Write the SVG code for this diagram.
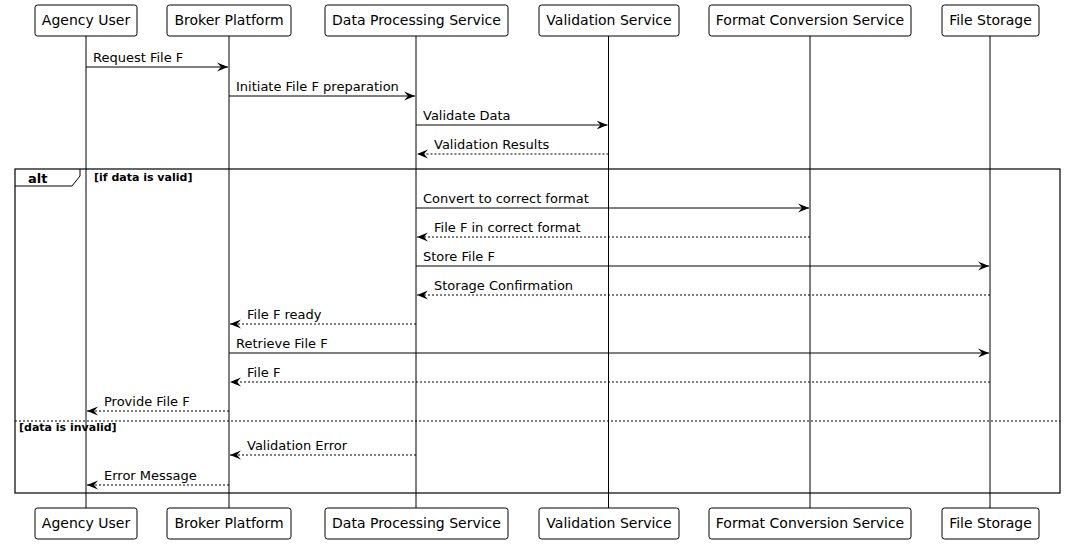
<svg xmlns="http://www.w3.org/2000/svg" width="1066" height="544" viewBox="0 0 1066 544">
<defs>
<style>
text{font-family:"DejaVu Sans",sans-serif;fill:#000}
.p{font-size:14px;text-anchor:middle}
.m{font-size:13px}
.g{font-size:11px;font-weight:bold}
.box{fill:#fff;stroke:#000;stroke-width:1}
.life{stroke:#000;stroke-width:1}
.sol{stroke:#000;stroke-width:1;fill:none}
.das{stroke:#000;stroke-width:1;fill:none;stroke-dasharray:2,2}
</style>
<marker id="ah" viewBox="0 0 12 10" refX="11" refY="5" markerWidth="12" markerHeight="10" orient="auto-start-reverse" markerUnits="userSpaceOnUse">
<path d="M0,0.5 L11,5 L0,9.5 L4,5 Z" fill="#000"/>
</marker>
</defs>
<rect width="1066" height="544" fill="#fff"/>
<g id="lifelines">
<line class="life" x1="86" y1="36" x2="86" y2="508"/>
<line class="life" x1="229" y1="36" x2="229" y2="508"/>
<line class="life" x1="416" y1="36" x2="416" y2="508"/>
<line class="life" x1="608.5" y1="36" x2="608.5" y2="508"/>
<line class="life" x1="810" y1="36" x2="810" y2="508"/>
<line class="life" x1="990" y1="36" x2="990" y2="508"/>
</g>
<g id="alt-frame">
<rect x="15" y="169" width="1045" height="324" fill="none" stroke="#000" stroke-width="1.2"/>
<path d="M15,186 L72,186 L80,176 L80,169" fill="none" stroke="#000" stroke-width="1"/>
<text x="28" y="183" style="font-size:13px;font-weight:bold">alt</text>
<text class="g" x="94" y="181">[if data is valid]</text>
<line x1="15" y1="421" x2="1060" y2="421" stroke="#000" stroke-width="1" stroke-dasharray="2,2"/>
<text class="g" x="19" y="431">[data is invalid]</text>
</g>
<g id="participant-agency-user">
<rect class="box" x="35" y="5" width="102" height="31" rx="2.5"/>
<text class="p" x="86" y="25">Agency User</text>
<rect class="box" x="35" y="508" width="102" height="31" rx="2.5"/>
<text class="p" x="86" y="528">Agency User</text>
</g>
<g id="participant-broker-platform">
<rect class="box" x="167" y="5" width="124" height="31" rx="2.5"/>
<text class="p" x="229" y="25">Broker Platform</text>
<rect class="box" x="167" y="508" width="124" height="31" rx="2.5"/>
<text class="p" x="229" y="528">Broker Platform</text>
</g>
<g id="participant-data-processing">
<rect class="box" x="325" y="5" width="183" height="31" rx="2.5"/>
<text class="p" x="416.5" y="25">Data Processing Service</text>
<rect class="box" x="325" y="508" width="183" height="31" rx="2.5"/>
<text class="p" x="416.5" y="528">Data Processing Service</text>
</g>
<g id="participant-validation">
<rect class="box" x="539" y="5" width="140" height="31" rx="2.5"/>
<text class="p" x="609" y="25">Validation Service</text>
<rect class="box" x="539" y="508" width="140" height="31" rx="2.5"/>
<text class="p" x="609" y="528">Validation Service</text>
</g>
<g id="participant-format-conversion">
<rect class="box" x="709" y="5" width="202" height="31" rx="2.5"/>
<text class="p" x="810" y="25">Format Conversion Service</text>
<rect class="box" x="709" y="508" width="202" height="31" rx="2.5"/>
<text class="p" x="810" y="528">Format Conversion Service</text>
</g>
<g id="participant-file-storage">
<rect class="box" x="942" y="5" width="97" height="31" rx="2.5"/>
<text class="p" x="990.5" y="25">File Storage</text>
<rect class="box" x="942" y="508" width="97" height="31" rx="2.5"/>
<text class="p" x="990.5" y="528">File Storage</text>
</g>
<g id="connectors">
<line class="sol" x1="86" y1="67" x2="228" y2="67" marker-end="url(#ah)"/>
<text class="m" x="93" y="62">Request File F</text>
<line class="sol" x1="229" y1="96" x2="415" y2="96" marker-end="url(#ah)"/>
<text class="m" x="236" y="91">Initiate File F preparation</text>
<line class="sol" x1="416" y1="125" x2="607.5" y2="125" marker-end="url(#ah)"/>
<text class="m" x="423" y="120">Validate Data</text>
<line class="das" x1="608.5" y1="154" x2="417" y2="154" marker-end="url(#ah)"/>
<text class="m" x="434" y="149">Validation Results</text>
<line class="sol" x1="416" y1="208" x2="809" y2="208" marker-end="url(#ah)"/>
<text class="m" x="423" y="203">Convert to correct format</text>
<line class="das" x1="810" y1="237" x2="417" y2="237" marker-end="url(#ah)"/>
<text class="m" x="434" y="232">File F in correct format</text>
<line class="sol" x1="416" y1="266" x2="989" y2="266" marker-end="url(#ah)"/>
<text class="m" x="423" y="261">Store File F</text>
<line class="das" x1="990" y1="295" x2="417" y2="295" marker-end="url(#ah)"/>
<text class="m" x="434" y="290">Storage Confirmation</text>
<line class="das" x1="416" y1="324" x2="230" y2="324" marker-end="url(#ah)"/>
<text class="m" x="247" y="319">File F ready</text>
<line class="sol" x1="229" y1="353" x2="989" y2="353" marker-end="url(#ah)"/>
<text class="m" x="236" y="348">Retrieve File F</text>
<line class="das" x1="990" y1="382" x2="230" y2="382" marker-end="url(#ah)"/>
<text class="m" x="247" y="377">File F</text>
<line class="das" x1="229" y1="411" x2="87" y2="411" marker-end="url(#ah)"/>
<text class="m" x="104" y="406">Provide File F</text>
<line class="das" x1="416" y1="455" x2="230" y2="455" marker-end="url(#ah)"/>
<text class="m" x="247" y="450">Validation Error</text>
<line class="das" x1="229" y1="485" x2="87" y2="485" marker-end="url(#ah)"/>
<text class="m" x="104" y="480">Error Message</text>
</g>
</svg>
